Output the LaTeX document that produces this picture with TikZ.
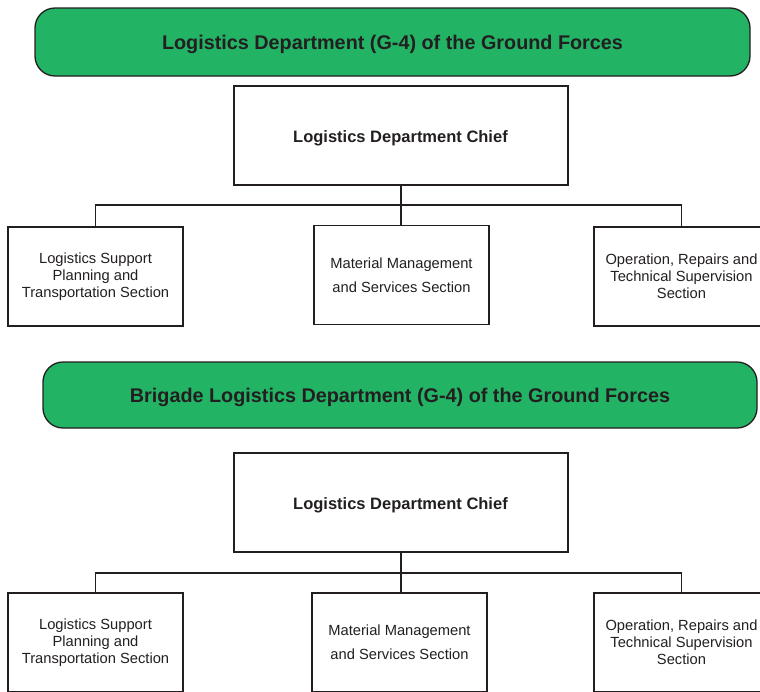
\documentclass[tikz,border=0pt]{standalone}
\usepackage{fontspec}
\setmainfont{Liberation Sans}
\definecolor{ink}{HTML}{231F20}
\definecolor{banner}{HTML}{22B365}
\begin{document}
\begin{tikzpicture}[x=1pt,y=-1pt,
  every node/.style={text=ink},
  bannerbox/.style={draw=ink, line width=1.3pt, fill=banner, rounded corners=20pt},
  bannertext/.style={font=\fontsize{19.8}{22}\selectfont\bfseries},
  chiefbox/.style={draw=ink, line width=1.3pt, fill=white, minimum width=334pt, minimum height=99pt, inner sep=0pt,
    font=\fontsize{16.5}{19}\selectfont\bfseries},
  chieftext/.style={font=\fontsize{16.5}{19}\selectfont\bfseries, inner sep=0pt},
  unitbox/.style={draw=ink, line width=1.3pt, fill=white, minimum width=175pt, minimum height=99pt, inner sep=0pt,
    align=center, font=\fontsize{14.7}{17}\selectfont},
  unitboxwide/.style={unitbox, font=\fontsize{14.7}{24}\selectfont},
  link/.style={draw=ink, line width=1.3pt}]
\path[use as bounding box, clip] (0,0) rectangle (760,691);
\fill[white] (0,0) rectangle (760,691);

% ---------- upper chart ----------
\draw[bannerbox] (35,8) rectangle (750,76);
\node[bannertext] (b1) at (392.5,44) {Logistics Department (G-4) of the Ground Forces};
\node[chiefbox] (c1) at (401,135.5) {};
\node[chieftext] (t1) at (400.5,138) {Logistics Department Chief};
\node[unitbox] (l1) at (95.5,276.5) {Logistics Support\\Planning and\\Transportation Section};
\node[unitboxwide] (m1) at (401.5,275) {Material Management\\and Services Section};
\node[unitbox] (r1) at (681.5,276.5) {Operation, Repairs and\\Technical Supervision\\Section};
\coordinate (j1) at (401,205);
\draw[link] (c1.south) -- (j1);
\draw[link] (l1.north) |- (j1) -| (r1.north);
\draw[link] (j1) -- (j1 |- m1.north);

% ---------- lower chart ----------
\draw[bannerbox] (43,362) rectangle (757,428);
\node[bannertext] (b2) at (400,397) {Brigade Logistics Department (G-4) of the Ground Forces};
\node[chiefbox] (c2) at (401,502.5) {};
\node[chieftext] (t2) at (400.5,505) {Logistics Department Chief};
\node[unitbox] (l2) at (95.5,642.5) {Logistics Support\\Planning and\\Transportation Section};
\node[unitboxwide] (m2) at (399.5,642.5) {Material Management\\and Services Section};
\node[unitbox] (r2) at (681.5,642.5) {Operation, Repairs and\\Technical Supervision\\Section};
\coordinate (j2) at (401,573);
\draw[link] (c2.south) -- (j2);
\draw[link] (l2.north) |- (j2) -| (r2.north);
\draw[link] (j2) -- (j2 |- m2.north);
\end{tikzpicture}
\end{document}
